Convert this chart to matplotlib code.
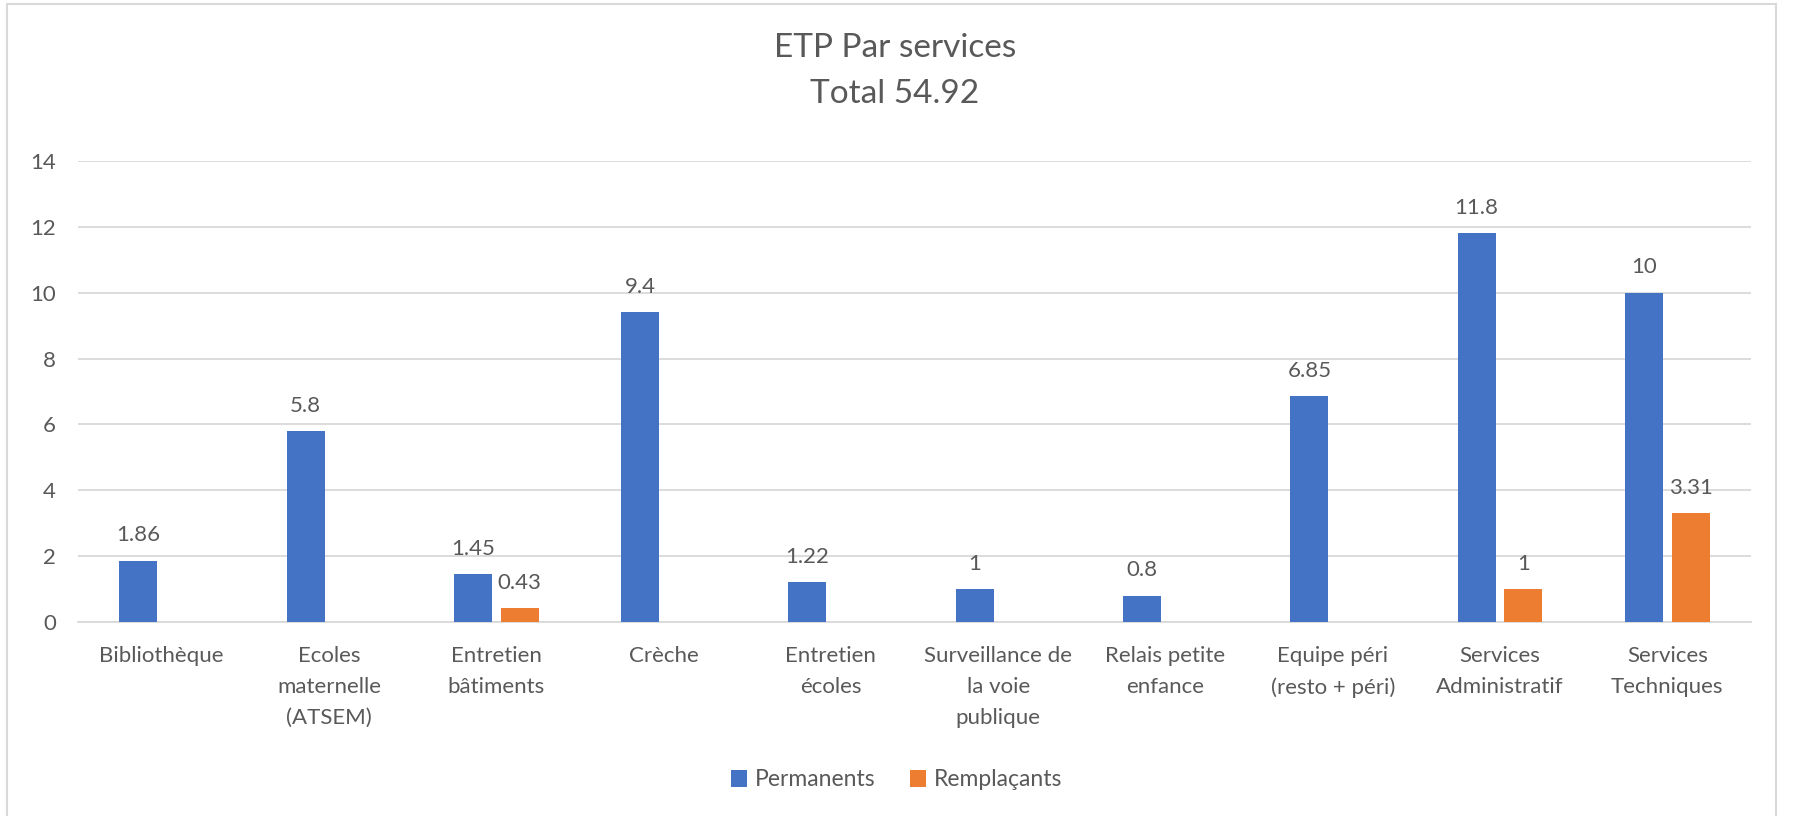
import numpy as np
import matplotlib
matplotlib.use("Agg")
import matplotlib.pyplot as plt
from matplotlib.patches import Rectangle

# ── Data ───────────────────────────────────────────────────────────────────────
categories = [
    "Bibliothèque", "Ecoles\nmaternelle\n(ATSEM)", "Entretien\nbâtiments", "Crèche",
    "Entretien\nécoles", "Surveillance de\nla voie\npublique", "Relais petite\nenfance",
    "Equipe péri\n(resto + péri)", "Services\nAdministratif", "Services\nTechniques",
]
permanents   = [1.86, 5.8, 1.45, 9.4, 1.22, 1, 0.8, 6.85, 11.8, 10]
remplacants  = [None, None, 0.43, None, None, None, None, None, 1, 3.31]
series_names = ["Permanents", "Remplaçants"]
title_lines  = ["ETP Par services", "Total 54.92"]

# ── Style ──────────────────────────────────────────────────────────────────────
BLUE   = "#4472C4"
ORANGE = "#ED7D31"
TEXT   = "#595959"
GRID   = "#D9D9D9"

plt.rcParams["font.family"] = ["Lato", "DejaVu Sans"]

fig = plt.figure(figsize=(17.93, 8.16), dpi=100)
ax = fig.add_axes([78 / 1793, 1 - 622 / 816, (1751 - 78) / 1793, (622 - 161) / 816])

x = np.arange(len(categories))
width = 0.227
offset = 0.14

perm = np.array(permanents, dtype=float)
remp = np.array([np.nan if v is None else v for v in remplacants], dtype=float)

b1 = ax.bar(x - offset, perm, width, color=BLUE, label=series_names[0], zorder=3)
b2 = ax.bar(x + offset, np.nan_to_num(remp), width, color=ORANGE, label=series_names[1], zorder=3)

def fmt(v):
    return f"{v:g}"

# Value labels (skip empty replacements)
for xi, v in zip(x - offset, perm):
    ax.annotate(fmt(v), (xi, v), xytext=(0, 11), textcoords="offset points",
                ha="center", va="bottom", fontsize=16, color=TEXT)
for xi, v in zip(x + offset, remp):
    if not np.isnan(v):
        ax.annotate(fmt(v), (xi, v), xytext=(0, 11), textcoords="offset points",
                    ha="center", va="bottom", fontsize=16, color=TEXT)

ax.set_xlim(-0.5, len(categories) - 0.5)
ax.set_ylim(0, 14)
ax.set_yticks(np.arange(0, 15, 2))
ax.set_xticks(x)
ax.set_xticklabels(categories, linespacing=1.7)
ax.tick_params(axis="y", length=0, pad=16, labelsize=16, labelcolor=TEXT)
ax.tick_params(axis="x", length=0, pad=17, labelsize=16, labelcolor=TEXT)

ax.grid(axis="y", color=GRID, linewidth=1.3, zorder=0)
for name, spine in ax.spines.items():
    spine.set_visible(name == "bottom")
ax.spines["bottom"].set_color(GRID)
ax.spines["bottom"].set_linewidth(1.3)

# Title
fig.text(0.499, 1 - 48 / 816, title_lines[0], ha="center", va="center", fontsize=24, color=TEXT)
fig.text(0.499, 1 - 94 / 816, title_lines[1], ha="center", va="center", fontsize=24, color=TEXT)

# Legend
fig.legend(handles=[b1, b2], loc="center", bbox_to_anchor=(0.5, 1 - 780 / 816), ncol=2,
           frameon=False, fontsize=16.5, labelcolor=TEXT, handlelength=0.7, handleheight=0.7,
           handletextpad=0.35, columnspacing=1.5)

# Outer chart border
fig.patches.append(Rectangle((7 / 1793, -0.05), (1776 - 7) / 1793, 1.05 - 4 / 816,
                             transform=fig.transFigure, fill=False, edgecolor=GRID,
                             linewidth=1.5))

fig.savefig("out.png", dpi=100, facecolor="white")
